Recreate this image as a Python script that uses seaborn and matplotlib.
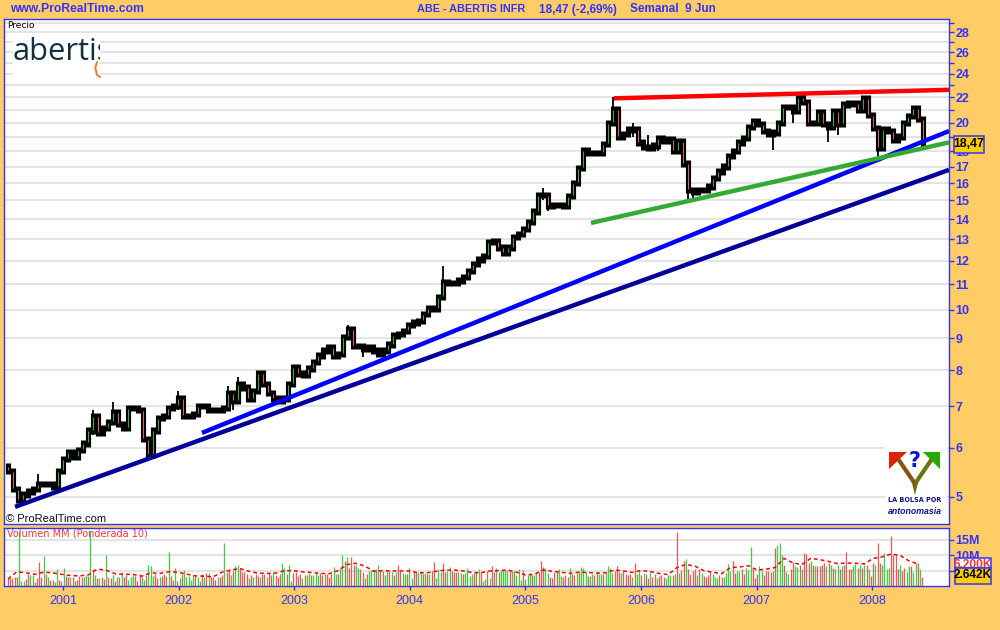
import numpy as np
import pandas as pd
import seaborn as sns
import matplotlib
matplotlib.use("Agg")
import matplotlib.pyplot as plt
from matplotlib.patches import Rectangle, Polygon
from matplotlib.lines import Line2D
from matplotlib.transforms import Bbox

closes = [5.5,5.15,4.95,5.05,5.1,5.15,5.25,5.25,5.25,5.2,5.5,5.75,5.9,5.8,5.95,6.1,6.4,6.75,6.35,6.45,
 6.6,6.85,6.55,6.45,6.95,6.95,6.9,6.2,5.85,6.4,6.7,6.75,6.95,7.0,7.2,6.75,6.75,6.8,7.0,7.0,
 6.9,6.9,6.9,6.95,7.35,7.15,7.6,7.5,7.2,7.4,7.9,7.6,7.35,7.2,7.15,7.2,7.6,8.1,7.9,7.85,
 8.05,8.25,8.45,8.6,8.7,8.45,8.5,9.05,9.3,8.75,8.75,8.65,8.7,8.6,8.5,8.6,8.8,9.1,9.15,9.25,
 9.45,9.55,9.6,9.85,10.05,10.05,10.5,11.1,11.05,11.05,11.15,11.3,11.55,11.85,12.05,12.2,12.85,12.9,12.6,12.35,
 12.6,13.1,13.25,13.5,13.85,14.4,15.3,15.3,14.7,14.75,14.75,14.7,15.25,16.0,16.9,18.1,17.9,17.9,17.9,18.5,
 20.0,21.0,19.0,19.2,19.5,19.5,18.6,18.3,18.2,18.4,18.9,18.7,18.8,18.0,18.7,17.2,15.6,15.5,15.6,15.6,
 15.8,16.3,16.7,17.0,17.7,18.0,18.6,18.9,19.7,20.1,19.9,19.4,19.2,19.3,20.0,21.2,21.2,20.9,22.0,21.6,
 20.0,20.0,20.8,19.9,19.7,20.9,19.9,21.4,21.5,21.5,21.0,21.9,20.6,19.6,18.2,19.5,19.4,18.8,19.0,20.0,
 20.5,21.1,20.3,18.47]
first_open = 5.6
wick_index = [6,17,21,28,34,44,45,46,68,71,87,107,108,121,125,128,130,136,137,153,157,164,166,174]
wick_high = [5.45,6.9,7.1,6.0,7.4,7.55,7.3,7.8,9.45,8.8,11.75,15.7,14.9,22.0,20.0,19.1,19.0,16.2,15.7,19.3,21.2,20.0,20.0,19.5]
wick_low = [5.15,6.3,6.6,5.75,6.9,7.0,6.9,7.2,9.0,8.4,10.9,15.0,14.4,20.0,19.0,18.0,18.0,15.1,15.0,18.1,20.0,18.6,19.1,17.5]

# weekly volume in millions; sign marks a down week (red) or an up week (green)
volumes = [-2.5,-2.5,-2.5,-3,-3,18,1.5,1.5,-2.4,-4,3.6,3.6,-1.3,-2.5,-7.8,-3,9.8,-4,3,-2,
 -2,1.3,5.5,-2,-1.7,6,-3.3,-3,2.8,-3,1.5,-2,-3.2,-3,3,3.5,-3.3,18,-5.5,3.5,
 -2.6,2.6,-3,-2.2,10,-3,-2.5,3.5,-1.5,3,-2.8,4.6,-3,-3.5,2,3,3.5,-3.2,-1.6,-4,
 3,1.8,-3.5,6.8,6.5,3.2,-4,-2.6,3,-3.2,-4,-3.4,11,-3.4,-2,5.8,-1.5,2.6,-4,5.2,
 3,3.3,2,3.5,-3.2,2.8,1.6,-4,3,-4.2,4.2,-2.8,-3,-2,2.8,-3,-3.5,14,-4.5,-5.5,
 3.5,-5,6.6,6.9,-5.5,-4.5,-4.5,-4,2.5,-3.5,3,-4,-3.2,3,-4,-4,2.8,-4.3,-3.6,4.4,
 -3.5,-3,-4,7.5,6,-4,7,1.5,-4.3,-4.5,-3.2,-4,2.5,-3.5,3.5,4.2,-3.5,3.6,4.3,3.5,
 -4.2,-3.5,4,-4,-3,-4,6.2,3.8,-4,5.8,10.2,-8,9.3,-5.8,-9.5,-6.8,6.8,5.8,-5.6,-4.4,
 2.7,-4,5,5.2,5.7,-5.5,6.8,-5,-4.8,3.5,4.9,-5,4.7,-3.7,4.7,-6.8,-5,4.3,3.8,-4,
 6,2.7,-4.5,-4.5,4.5,5,-3.8,4.3,-4,4,-4.8,-7.7,2.7,5.7,4.7,-7.4,-4.4,5,6.3,-4.8,
 -4.5,-4.5,4.5,4.3,-4,4.2,6,3.2,3.8,-4.2,-4.5,5.5,-4.5,1.5,2.2,-5,2.5,-6.6,-4.5,5.8,
 -4.5,5.2,5.2,5.3,5.2,-5,5,-5,3.5,5.5,1.8,-5.2,2.2,3.7,4.3,-3.7,3.6,4.5,-4.5,-8.2,
 -6.3,6,4.3,-3,-2.6,-4.5,-4.5,5.5,3.2,-3,-3.5,-3,6,-4,-3.7,4.3,-4.4,6.3,6,4.5,
 -3.3,3.4,4,-3.7,-4.5,4,3.8,-4,4.5,6.6,5.8,4.2,-5,-6.6,-4.7,4.2,-5,-4,-3.5,-4,
 3,-7.4,4,4.8,-3.5,4.3,-4,-2.6,4.6,-2.8,-4,2.6,-3.4,-3.5,-3,2.6,3.5,3.7,-3.7,3.8,
 -17.5,4.3,-5.2,-8,8.8,-5.7,-3.8,-5,-5.5,3.5,-5.6,4.2,-3.3,-3,-3.5,-5,4,3,2.5,-3.5,
 -3,3,4.2,7.2,4.8,-8,-4.2,5,5,-5.5,-4,5.8,5.2,12.8,-6,-2.7,-4,6.5,5,-3.5,
 -5,-5,-4.5,4.8,-12.5,13.3,14,10,-7,4.5,3.8,-5.5,-7.8,6.5,6.2,-7,5.5,-10.8,-10.5,-7.5,
 8,-7,6.5,-6.5,-6.5,-7,-7.5,6.5,-7.5,7,-6,5.5,7,-5.5,6.5,-7,-11.2,-5.5,-5.5,6.5,
 7.2,-6,7,-5.8,6.7,-7,5.5,-3.2,-7.5,7,-14,-7.5,7,10.8,5.5,6,-16.3,-10,-10,-5.5,
 7,-5,-5.8,4.5,6.5,-6.5,4.5,7.5,-7.5,5.5,-3]
# weighted moving average of volume, read every fourth week
vol_ma = [2.3,4.6,4.3,3.8,4.5,4.3,3.8,3.4,3.3,3.6,5.5,5.2,4.0,3.8,3.8,3.2,4.3,4.1,4.6,4.5,3.9,3.3,3.2,3.0,4.5,5.2,5.7,4.8,4.2,4.1,4.2,5.0,5.0,4.6,4.4,
 4.1,4.0,5.0,7.0,7.4,6.5,4.8,5.0,4.9,4.9,4.9,4.3,4.3,4.8,5.2,5.2,4.9,4.4,4.3,4.9,5.0,5.2,4.5,3.6,3.8,5.2,4.8,4.5,4.1,4.5,4.4,4.2,4.3,5.2,
 4.9,4.4,5.1,4.7,4.1,3.7,6.0,7.0,6.5,5.0,4.5,4.0,6.0,6.2,6.6,5.2,5.5,6.0,9.0,7.5,7.0,9.0,8.6,8.0,7.3,7.5,7.4,7.2,9.0,9.5,10.4,10.0,8.2,7.2]

years = list(range(2001, 2009))
price_ticks = list(range(5, 30))
price_labels = [5,6,7,8,9,10,11,12,13,14,15,16,17,18,20,22,24,26,28]

trend_dates = {"red": [2005.766, 2008.664], "blue": [2002.202, 2008.664],
               "navy": [2000.585, 2008.664], "green": [2005.567, 2008.664]}
trend_prices = {"red": [21.9, 22.6], "blue": [6.34, 19.4],
                "navy": [4.82, 16.8], "green": [13.8, 18.6]}
trend_colors = {"red": "#FF0000", "blue": "#0000FF", "navy": "#000099", "green": "#33AA33"}

W, H = 1000, 630
ORANGE, BLUE, GRID = "#FFCC66", "#3333FF", "#DDDDDD"
sns.set_theme(style="white", rc={"font.family": ["Liberation Sans", "DejaVu Sans"]})
fig = plt.figure(figsize=(W/100, H/100), dpi=100, facecolor=ORANGE)

def axes_px(x0, y0, x1, y1):
    return fig.add_axes([x0/W, 1-y1/H, (x1-x0)/W, (y1-y0)/H])
def fx(x): return x/W
def fy(y): return 1-y/H
def ftext(x, y, s, **kw):
    kw.setdefault("va", "center")
    kw.setdefault("zorder", 10)
    return fig.text(fx(x), fy(y), s, **kw)
def frect(x0, y0, x1, y1, **kw):
    r = Rectangle((fx(x0), fy(y1)), (x1-x0)/W, (y1-y0)/H, transform=fig.transFigure, **kw)
    fig.add_artist(r)
    return r

ax = axes_px(3.5, 18.5, 949, 524)
axv = axes_px(3.5, 527.5, 949, 586)
xlim = (2001+(3.5-63)/115.6, 2008+(949-872.2)/115.6)

# ---- candles
n = len(closes)
step = 5/115.6
dates = 2000.524 + np.arange(n)*step
close = np.array(closes)
opens = np.r_[first_open, close[:-1]]
wx = dates[np.array(wick_index)]
ax.vlines(wx, wick_low, wick_high, color="black", lw=1.3, zorder=3)
ax.vlines(dates, np.minimum(opens, close)/1.012, np.maximum(opens, close)*1.012, color="black", lw=3.7, zorder=3)
lo, hi = np.minimum(opens, close)*1.003, np.maximum(opens, close)/1.003
keep = hi/lo > 1.012
ax.vlines(dates[keep], lo[keep], hi[keep], colors=np.where(close >= opens, "#33BB33", "#DD6666")[keep], lw=0.7, zorder=4)

# ---- trend lines
for name in ["navy", "blue", "green", "red"]:
    d = pd.DataFrame({"date": trend_dates[name], "price": trend_prices[name]})
    sns.lineplot(data=d, x="date", y="price", ax=ax, color=trend_colors[name], lw=3.2, zorder=5, solid_capstyle="butt")

ax.set_yscale("log")
ax.set_xlim(*xlim)
ax.set_ylim(28*np.exp((32-524)/269.9), 28*np.exp((32-18.5)/269.9))
ax.set_xlabel(""); ax.set_ylabel("")
ax.set_xticks([])
ax.yaxis.tick_right()
ax.minorticks_off()
ax.set_yticks(price_ticks)
ax.set_yticklabels([str(t) if t in price_labels else "" for t in price_ticks],
                   fontsize=9, fontweight="bold", color=BLUE)
ax.tick_params(axis="y", which="major", right=True, length=3.6, width=1, color=BLUE, pad=1.2)
ax.tick_params(axis="y", which="minor", right=False, left=False)
ax.grid(True, axis="y", which="major", color=GRID, lw=1.1, zorder=0)

# ---- volume
vol = np.array(volumes)
weeks = 2000.524 + np.arange(len(vol))*(2.23/115.6)
axv.vlines(weeks[vol > 0], 0, vol[vol > 0], color="#44CC44", lw=0.95, zorder=3)
axv.vlines(weeks[vol < 0], 0, -vol[vol < 0], color="#DD6060", lw=0.95, zorder=3)
ma = pd.DataFrame({"date": weeks[::4][:len(vol_ma)], "ma": vol_ma})
sns.lineplot(data=ma, x="date", y="ma", ax=axv, color="#FF0000", lw=1.1, zorder=4, linestyle=(0, (2.5, 2)))
axv.set_xlim(*xlim)
axv.set_ylim(0, 58.5/3.07)
axv.set_xlabel(""); axv.set_ylabel("")
axv.yaxis.tick_right()
axv.set_yticks([5, 10, 15])
axv.set_yticklabels(["", "10M", "15M"], fontsize=9, fontweight="bold", color=BLUE)
axv.set_xticks(years)
axv.set_xticklabels([str(y) for y in years], fontsize=9, color=BLUE)
axv.tick_params(axis="x", bottom=True, length=3, width=1, color=BLUE, pad=3.5)
axv.tick_params(axis="y", right=True, length=3.6, width=1, color=BLUE, pad=1.2)
axv.grid(True, axis="y", color=GRID, lw=1.1, zorder=0)
axv.grid(False, axis="x")

for a in (ax, axv):
    a.set_facecolor("white")
    a.set_axisbelow(True)
    for s in a.spines.values():
        s.set_visible(True); s.set_color(BLUE); s.set_linewidth(1.0)

# ---- header and pane captions
ftext(10, 9.5, "www.ProRealTime.com", color=BLUE, fontsize=8.7, fontweight="bold")
ftext(417, 9.5, "ABE - ABERTIS INFR", color=BLUE, fontsize=7.8, fontweight="bold")
ftext(539, 9.5, "18,47 (-2,69%)", color=BLUE, fontsize=8.5, fontweight="bold")
ftext(630, 9.5, "Semanal  9 Jun", color=BLUE, fontsize=8.5, fontweight="bold")
ftext(7, 25, "Precio", color="black", fontsize=6.5, family="DejaVu Sans")
ftext(6, 518.5, "© ProRealTime.com", color="#111111", fontsize=8, family="Liberation Sans")
ftext(7, 534, "Volumen MM (Ponderada 10)", color="#FF3333", fontsize=7, family="DejaVu Sans")

# ---- company logo
frect(13, 35, 100, 79, facecolor="white", edgecolor="none", zorder=8)
logo = ftext(13, 60.5, "abertis", color="#12303F", fontsize=22.2, family="Open Sans", va="baseline")
logo.set_clip_box(Bbox([[13, H-80], [100, H-30]]))
logo.set_clip_on(True)
fig.add_artist(Line2D([fx(97), fx(95.3), fx(97), fx(100)], [fy(62), fy(68), fy(75), fy(77)],
                      color="#FF7722", lw=1.4, transform=fig.transFigure, zorder=9))

# ---- site logo
frect(885, 446, 947, 522, facecolor="white", edgecolor="none", zorder=8)
def fpoly(pts, color):
    fig.add_artist(Polygon([(fx(x), fy(y)) for x, y in pts], closed=True, facecolor=color,
                           edgecolor="none", transform=fig.transFigure, zorder=9))
fpoly([(889, 452), (907, 452), (889, 469)], "#DD2200")
fpoly([(923, 452), (940, 452), (940, 469)], "#22AA00")
fpoly([(897, 461), (900, 458), (915, 480), (915, 495), (912, 483)], "#885511")
fpoly([(933, 461), (930, 458), (915, 480), (915, 495), (918, 483)], "#667711")
ftext(915, 461, "?", color="#1111CC", fontsize=15, fontweight="bold", ha="center", family="DejaVu Sans")
ftext(915, 500.5, "LA BOLSA POR", color="#111188", fontsize=4.7, fontweight="bold", ha="center", family="DejaVu Sans")
ftext(915, 511, "antonomasia", color="#111188", fontsize=6.3, fontweight="bold", style="italic", ha="center")

# ---- value boxes
frect(954, 135.5, 983.5, 152.5, facecolor="#FFCC00", edgecolor=BLUE, lw=1.1, zorder=11)
ftext(969, 144, "18,47", color="black", fontsize=8.8, fontweight="bold", ha="center", zorder=12)
frect(954.5, 557.5, 990.5, 567.5, facecolor="white", edgecolor=BLUE, lw=1.1, zorder=8)
t = ftext(972.5, 564.5, "6.200K", color="#FF3333", fontsize=8.6, fontweight="bold", ha="center")
t.set_clip_box(Bbox([[955, H-567], [990, H-558]]))
t.set_clip_on(True)
frect(954.5, 567.5, 990.5, 583.5, facecolor="#FFCC00", edgecolor=BLUE, lw=1.1, zorder=11)
ftext(972.5, 575.5, "2.642K", color="black", fontsize=8.6, fontweight="bold", ha="center", zorder=12)

fig.savefig("out.png", dpi=100, facecolor=ORANGE)
